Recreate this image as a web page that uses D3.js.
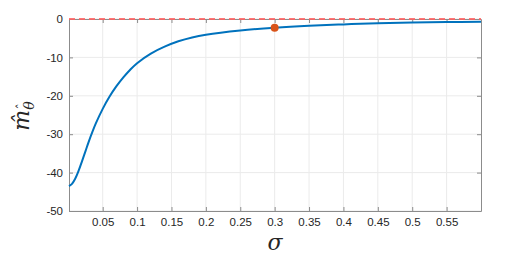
<!DOCTYPE html>
<html>
<head>
<meta charset="utf-8">
<script src="https://cdn.jsdelivr.net/npm/d3@7"></script>
<style>
  body { margin: 0; background: #fff; }
  text { font-family: "Liberation Sans", Arial, sans-serif; }
</style>
</head>
<body>
<svg id="chart" width="532" height="257"></svg>
<script>
// données
const sigma = [0.001, 0.005, 0.01, 0.015, 0.02, 0.025, 0.03, 0.035, 0.04, 0.05,
  0.06, 0.07, 0.08, 0.09, 0.1, 0.12, 0.14, 0.16, 0.18, 0.2,
  0.25, 0.3, 0.35, 0.4, 0.45, 0.5, 0.55, 0.6];
const mHat = [-43.5, -43.0, -41.6, -39.5, -37.0, -34.4, -31.8, -29.4, -27.2, -23.4,
  -20.2, -17.5, -15.2, -13.2, -11.5, -9.0, -7.2, -5.8, -4.8, -4.1,
  -3.0, -2.26, -1.75, -1.4, -1.1, -0.9, -0.8, -0.7];
const markerPoint = [{ s: 0.3, m: -2.26 }];
const xTicks = [0.05, 0.1, 0.15, 0.2, 0.25, 0.3, 0.35, 0.4, 0.45, 0.5, 0.55];
const yTicks = [-50, -40, -30, -20, -10, 0];

const data = sigma.map((s, i) => ({ s: s, m: mHat[i] }));

const margin = { left: 69, top: 19, right: 51, bottom: 46 };
const width = 532 - margin.left - margin.right;
const height = 257 - margin.top - margin.bottom;

const svg = d3.select("#chart");
const g = svg.append("g").attr("transform", `translate(${margin.left},${margin.top})`);

const x = d3.scaleLinear().domain([0.001, 0.6]).range([0, width]);
const y = d3.scaleLinear().domain([-50, 0]).range([height, 0]);

// grille
g.selectAll(".gx").data(xTicks).enter().append("line")
    .attr("x1", d => x(d)).attr("x2", d => x(d))
    .attr("y1", 0).attr("y2", height)
    .attr("stroke", "#ebebeb").attr("stroke-width", 1);
g.selectAll(".gy").data(yTicks).enter().append("line")
    .attr("x1", 0).attr("x2", width)
    .attr("y1", d => y(d)).attr("y2", d => y(d))
    .attr("stroke", "#ebebeb").attr("stroke-width", 1);

// axes
const xAxis = g.append("g").attr("transform", `translate(0,${height})`)
    .call(d3.axisBottom(x).tickValues(xTicks).tickFormat(d3.format("~g")).tickSizeInner(-4).tickSizeOuter(0).tickPadding(7));
const yAxis = g.append("g")
    .call(d3.axisLeft(y).tickValues(yTicks).tickFormat(d => d).tickSizeInner(-4).tickSizeOuter(0).tickPadding(6));
const xTop = g.append("g")
    .call(d3.axisTop(x).tickValues(xTicks).tickFormat("").tickSizeInner(-4).tickSizeOuter(0));
const yRight = g.append("g").attr("transform", `translate(${width},0)`)
    .call(d3.axisRight(y).tickValues(yTicks).tickFormat("").tickSizeInner(-4).tickSizeOuter(0));

[xAxis, yAxis, xTop, yRight].forEach(a => {
  a.selectAll("path").attr("stroke", "#8c8c8c");
  a.selectAll("line").attr("stroke", "#8c8c8c");
  a.selectAll("text").attr("fill", "#262626").style("font-size", "11.5px")
    .style("font-family", "'Liberation Sans', Arial, sans-serif");
});

// ligne de référence à zéro
g.append("line")
    .attr("x1", 0).attr("x2", width)
    .attr("y1", y(0)).attr("y2", y(0))
    .attr("stroke", "#ff6060").attr("stroke-opacity", 0.85)
    .attr("stroke-width", 2).attr("stroke-dasharray", "6,4");

// courbe
const line = d3.line().x(d => x(d.s)).y(d => y(d.m)).curve(d3.curveCatmullRom.alpha(0.5));
g.append("path").datum(data)
    .attr("d", line)
    .attr("fill", "none")
    .attr("stroke", "#0072BD")
    .attr("stroke-width", 2);

g.selectAll(".pt").data(markerPoint).enter().append("circle")
    .attr("cx", d => x(d.s)).attr("cy", d => y(d.m))
    .attr("r", 4).attr("fill", "#D95319");

// libellés des axes
svg.append("text")
    .attr("x", margin.left + width / 2).attr("y", 250)
    .attr("text-anchor", "middle")
    .style("font-family", "'DejaVu Serif', serif").style("font-style", "italic").style("font-size", "22px")
    .attr("fill", "#262626")
    .text("σ");

const yl = svg.append("text")
    .attr("transform", "translate(29,116) rotate(-90)")
    .attr("text-anchor", "middle")
    .style("font-family", "'DejaVu Serif', serif").style("font-style", "italic")
    .attr("fill", "#262626");
yl.append("tspan").style("font-size", "22px").text("m\u0302");
yl.append("tspan").attr("dy", 5).style("font-size", "14px").text("\u03B8");
yl.append("tspan").attr("dx", -8).attr("dy", -8).style("font-size", "12px").style("font-style", "normal").text("\u02C6");
</script>
</body>
</html>
